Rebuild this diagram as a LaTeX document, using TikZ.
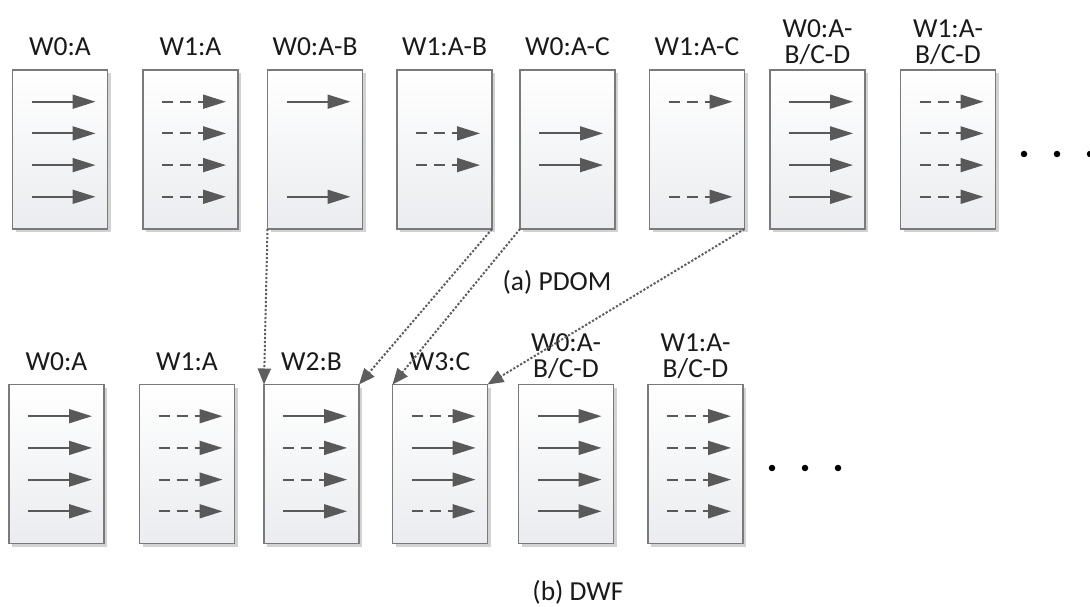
\documentclass[tikz,border=0pt]{standalone}
\usepackage{fontspec}
\setmainfont{Carlito}
\usetikzlibrary{arrows.meta,calc}
\definecolor{boxedge}{HTML}{7A7A7A}
\definecolor{boxbot}{HTML}{EAECEF}
\definecolor{shadowc}{HTML}{D2D2D2}
\definecolor{arrc}{HTML}{595959}
\definecolor{txtc}{HTML}{1A1A1A}
\definecolor{linkc}{HTML}{5E5E5E}
\tikzset{
  slot/.style={draw=boxedge, line width=1.1pt, top color=white, bottom color=boxbot,
    minimum width=95pt, minimum height=159pt, inner sep=0pt, outer sep=0pt},
  lbl/.style={text=txtc, font=\fontsize{27.5}{26}\selectfont, align=center, inner sep=0pt},
  solidarr/.style={draw=arrc, line width=1.8pt, -{Triangle[length=23pt,width=14pt]}},
  dasharr/.style={draw=arrc, line width=1.8pt, dash pattern=on 11pt off 7pt, -{Triangle[length=23pt,width=14pt]}},
  link/.style={draw=linkc, line width=2pt, dash pattern=on 2.2pt off 1.8pt,
    -{Triangle[length=16pt,width=13pt]}},
  dot/.style={circle, fill=black, inner sep=0pt, minimum size=6.5pt}
}
% one box with its drop shadow: name, centre x, centre y
\newcommand{\slotbox}[3]{%
  \fill[shadowc] (#2-44.5,#3-76.5) rectangle (#2+50.5,#3+82.5);
  \node[slot] (#1) at (#2,#3) {};
}
% arrow rows inside a box: name, list of row/style
\newcommand{\rows}[2]{%
  \foreach \r/\st in {#2}{%
    \draw[\st] ($(#1.north west)+(19,{\r*31.7})$) -- ($(#1.north west)+(83,{\r*31.7})$);
  }%
}
\begin{document}
\begin{tikzpicture}[x=1pt,y=-1pt]
\useasboundingbox (0,0) rectangle (1090,607);
% top row: (a) PDOM
\slotbox{ta}{60}{149.5}
\slotbox{tb}{190.5}{149.5}
\slotbox{tc}{315}{149.5}
\slotbox{td}{444.5}{149.5}
\slotbox{te}{567.5}{149.5}
\slotbox{tf}{697}{149.5}
\slotbox{tg}{817.5}{149.5}
\slotbox{th}{948}{149.5}
\node[lbl] (lta) at (60,47) {W0:A};
\node[lbl] (ltb) at (190.5,47) {W1:A};
\node[lbl] (ltc) at (315,47) {W0:A-B};
\node[lbl] (ltd) at (444.5,47) {W1:A-B};
\node[lbl] (lte) at (567.5,47) {W0:A-C};
\node[lbl] (ltf) at (697,47) {W1:A-C};
\node[lbl] (ltg) at (817.5,42.5) {W0:A-\\B/C-D};
\node[lbl] (lth) at (948,42.5) {W1:A-\\B/C-D};
\rows{ta}{1/solidarr,2/solidarr,3/solidarr,4/solidarr}
\rows{tb}{1/dasharr,2/dasharr,3/dasharr,4/dasharr}
\rows{tc}{1/solidarr,4/solidarr}
\rows{td}{2/dasharr,3/dasharr}
\rows{te}{2/solidarr,3/solidarr}
\rows{tf}{1/dasharr,4/dasharr}
\rows{tg}{1/solidarr,2/solidarr,3/solidarr,4/solidarr}
\rows{th}{1/dasharr,2/dasharr,3/dasharr,4/dasharr}
\node[dot] (td1) at (1024,154) {};
\node[dot] (td2) at (1057,154) {};
\node[dot] (td3) at (1090,154) {};
\node[lbl] (capa) at (557,282) {(a) PDOM};
% bottom row: (b) DWF
\slotbox{ba}{56.5}{464}
\slotbox{bb}{187}{464}
\slotbox{bc}{311.5}{464}
\slotbox{bd}{440}{464}
\slotbox{be}{566}{464}
\slotbox{bf}{695.5}{464}
\node[lbl] (lba) at (56.5,361.5) {W0:A};
\node[lbl] (lbb) at (187,361.5) {W1:A};
\node[lbl] (lbc) at (311.5,361.5) {W2:B};
\node[lbl] (lbd) at (440,361.5) {W3:C};
\node[lbl] (lbe) at (566,356.5) {W0:A-\\B/C-D};
\node[lbl] (lbf) at (695.5,356.5) {W1:A-\\B/C-D};
\rows{ba}{1/solidarr,2/solidarr,3/solidarr,4/solidarr}
\rows{bb}{1/dasharr,2/dasharr,3/dasharr,4/dasharr}
\rows{bc}{1/solidarr,2/dasharr,3/dasharr,4/solidarr}
\rows{bd}{1/dasharr,2/solidarr,3/solidarr,4/dasharr}
\rows{be}{1/solidarr,2/solidarr,3/solidarr,4/solidarr}
\rows{bf}{1/dasharr,2/dasharr,3/dasharr,4/dasharr}
\node[dot] (bd1) at (772,468) {};
\node[dot] (bd2) at (805,468) {};
\node[dot] (bd3) at (838,468) {};
\node[lbl] (capb) at (578,592) {(b) DWF};
% divergent paths re-grouped into new warps
\draw[link] (tc.south west) -- (bc.north west);
\draw[link] (td.south east) -- (bc.north east);
\draw[link] (te.south west) -- (bd.north west);
\draw[link] (tf.south east) -- (bd.north east);
\end{tikzpicture}
\end{document}
